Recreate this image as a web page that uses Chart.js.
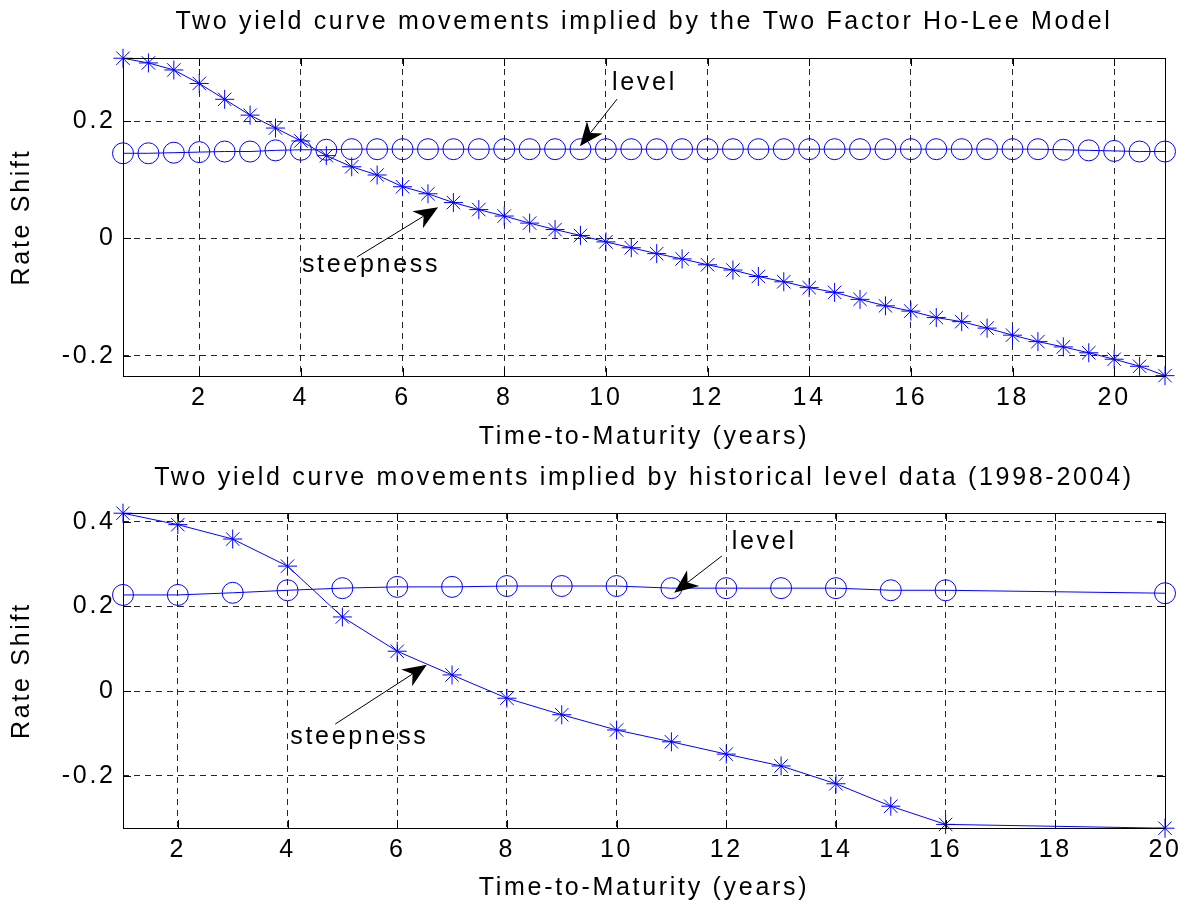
<!DOCTYPE html>
<html>
<head>
<meta charset="utf-8">
<script src="https://cdn.jsdelivr.net/npm/chart.js@4.4.1/dist/chart.umd.min.js"></script>
<style>
  body { margin: 0; background: #fff; }
  .panel { position: absolute; left: 0; width: 1193px; }
</style>
</head>
<body>
<div class="panel" style="top:0;height:455px"><canvas id="hoLee"></canvas></div>
<div class="panel" style="top:455px;height:452px"><canvas id="historical"></canvas></div>
<script>
// ---- data ----
const topMaturities = [0.5, 1, 1.5, 2, 2.5, 3, 3.5, 4, 4.5, 5, 5.5, 6, 6.5, 7, 7.5, 8, 8.5, 9, 9.5, 10,
  10.5, 11, 11.5, 12, 12.5, 13, 13.5, 14, 14.5, 15, 15.5, 16, 16.5, 17, 17.5, 18, 18.5, 19, 19.5, 20, 20.5, 21];
const topSteepness = [0.307, 0.299, 0.287, 0.264, 0.237, 0.210, 0.188, 0.166, 0.141, 0.122, 0.108, 0.088,
  0.076, 0.061, 0.049, 0.038, 0.026, 0.015, 0.005, -0.006, -0.016, -0.026, -0.035, -0.045, -0.054, -0.065,
  -0.074, -0.084, -0.092, -0.104, -0.115, -0.124, -0.135, -0.142, -0.153, -0.165, -0.176, -0.185, -0.195,
  -0.206, -0.218, -0.234];
const topLevel = [0.145, 0.145, 0.146, 0.147, 0.148, 0.148, 0.150, 0.151, 0.151, 0.152, 0.152, 0.152,
  0.152, 0.152, 0.152, 0.152, 0.152, 0.152, 0.152, 0.152, 0.152, 0.152, 0.152, 0.152, 0.152, 0.152,
  0.152, 0.152, 0.152, 0.152, 0.152, 0.152, 0.152, 0.152, 0.152, 0.152, 0.152, 0.151, 0.150, 0.149,
  0.148, 0.148];

const bottomMaturities = [1, 2, 3, 4, 5, 6, 7, 8, 9, 10, 11, 12, 13, 14, 15, 16, 20];
const bottomSteepness = [0.420, 0.393, 0.359, 0.295, 0.175, 0.094, 0.038, -0.017, -0.056, -0.092,
  -0.120, -0.149, -0.177, -0.219, -0.272, -0.315, -0.324];
const bottomLevel = [0.227, 0.227, 0.232, 0.238, 0.243, 0.246, 0.246, 0.248, 0.248, 0.248, 0.243,
  0.243, 0.243, 0.243, 0.238, 0.238, 0.231];

const xTickValues = [2, 4, 6, 8, 10, 12, 14, 16, 18, 20];
const topYTicks = [-0.2, 0, 0.2];
const bottomYTicks = [-0.2, 0, 0.2, 0.4];

const topTitle = "Two yield curve movements implied by the Two Factor Ho-Lee Model";
const bottomTitle = "Two yield curve movements implied by historical level data (1998-2004)";
const xLabel = "Time-to-Maturity (years)";
const yLabel = "Rate Shift";

// annotation anchors, in data units
const topNotes = [
  { text: "level", at: [10.12, 0.253], from: [10.22, 0.2374], to: [9.49, 0.157] },
  { text: "steepness", at: [4.02, -0.057], from: [5.10, -0.032], to: [6.70, 0.053] }
];
const bottomNotes = [
  { text: "level", at: [12.10, 0.335], from: [11.92, 0.319], to: [11.05, 0.232] },
  { text: "steepness", at: [4.05, -0.125], from: [4.87, -0.078], to: [6.54, 0.062] }
];

// ---- styling ----
const FONT = "'Liberation Sans', Arial, Helvetica, sans-serif";
const SPACING = "2.7px";
const BLUE = "#0000ff";
const textFont = { family: FONT, size: 25, weight: "normal", lineHeight: 1.2 };

// MATLAB-ish wide letter spacing for every canvas text
const spacing = {
  id: "spacing",
  beforeLayout(chart) { chart.ctx.letterSpacing = SPACING; },
  beforeDraw(chart) { chart.ctx.letterSpacing = SPACING; }
};

function drawArrow(ctx, x1, y1, x2, y2) {
  const a = Math.atan2(y2 - y1, x2 - x1);
  const L = 24, W = 10, N = 7;
  const cx = Math.cos(a), sy = Math.sin(a);
  const nx = -sy, ny = cx;
  const bx = x2 - cx * L, by = y2 - sy * L;
  const mx = x2 - cx * (L - N), my = y2 - sy * (L - N);
  ctx.beginPath();
  ctx.moveTo(x1, y1);
  ctx.lineTo(mx, my);
  ctx.stroke();
  ctx.beginPath();
  ctx.moveTo(x2, y2);
  ctx.lineTo(bx + nx * W, by + ny * W);
  ctx.lineTo(mx, my);
  ctx.lineTo(bx - nx * W, by - ny * W);
  ctx.closePath();
  ctx.fill();
}

// box, inward tick marks and text arrows
const frame = {
  id: "frame",
  afterDraw(chart, args, opts) {
    const { ctx, chartArea: a, scales: { x, y } } = chart;
    ctx.save();
    ctx.strokeStyle = "#000";
    ctx.fillStyle = "#000";
    ctx.lineWidth = 1;
    ctx.setLineDash([]);
    ctx.strokeRect(a.left + 0.5, a.top + 0.5, a.right - a.left, a.bottom - a.top);
    const t = 8;
    ctx.beginPath();
    x.ticks.forEach(tk => {
      const px = Math.round(x.getPixelForValue(tk.value)) + 0.5;
      ctx.moveTo(px, a.bottom); ctx.lineTo(px, a.bottom - t);
      ctx.moveTo(px, a.top); ctx.lineTo(px, a.top + t);
    });
    y.ticks.forEach(tk => {
      const py = Math.round(y.getPixelForValue(tk.value)) + 0.5;
      ctx.moveTo(a.left, py); ctx.lineTo(a.left + t, py);
      ctx.moveTo(a.right, py); ctx.lineTo(a.right - t, py);
    });
    ctx.stroke();

    ctx.letterSpacing = SPACING;
    ctx.font = "25px " + FONT;
    ctx.textAlign = "left";
    ctx.textBaseline = "alphabetic";
    (opts.items || []).forEach(n => {
      ctx.fillText(n.text, x.getPixelForValue(n.at[0]), y.getPixelForValue(n.at[1]));
      drawArrow(ctx,
        x.getPixelForValue(n.from[0]), y.getPixelForValue(n.from[1]),
        x.getPixelForValue(n.to[0]), y.getPixelForValue(n.to[1]));
    });
    ctx.restore();
  }
};

function makeChart(id, cfg) {
  const toPoints = (xs, ys) => xs.map((v, i) => ({ x: v, y: ys[i] }));
  return new Chart(document.getElementById(id), {
    type: "line",
    data: {
      datasets: [
        {
          label: "steepness",
          data: toPoints(cfg.xs, cfg.steep),
          borderColor: BLUE,
          borderWidth: 1,
          pointStyle: "star",
          pointRadius: 9.5,
          pointBorderWidth: 1,
          pointBorderColor: BLUE,
          pointBackgroundColor: "rgba(0,0,0,0)",
          tension: 0,
          clip: false
        },
        {
          label: "level",
          data: toPoints(cfg.xs, cfg.level),
          borderColor: BLUE,
          borderWidth: 1,
          pointStyle: "circle",
          pointRadius: 10.5,
          pointBorderWidth: 1,
          pointBorderColor: BLUE,
          pointBackgroundColor: "rgba(0,0,0,0)",
          tension: 0,
          clip: false
        }
      ]
    },
    options: {
      responsive: true,
      maintainAspectRatio: false,
      animation: false,
      events: [],
      layout: { padding: { left: 0, right: 28, top: 0, bottom: 0 } },
      plugins: {
        legend: { display: false },
        tooltip: { enabled: false },
        title: {
          display: true,
          text: cfg.title,
          fullSize: false,
          color: "#000",
          font: textFont,
          padding: { top: cfg.titleTop, bottom: 58 - 30 - cfg.titleTop }
        },
        frame: { items: cfg.notes }
      },
      scales: {
        x: {
          type: "linear",
          min: cfg.xMin,
          max: cfg.xMax,
          afterBuildTicks: s => { s.ticks = xTickValues.map(v => ({ value: v })); },
          afterFit: s => { s.height = 79; },
          grid: { color: "rgba(0,0,0,0.85)", lineWidth: 1, drawTicks: false },
          border: { display: false, dash: [6, 5] },
          ticks: {
            color: "#000", font: textFont, padding: 7.5,
            maxRotation: 0, autoSkip: false,
            callback: v => String(v)
          },
          title: {
            display: true, text: xLabel, color: "#000", font: textFont,
            padding: { top: 0, bottom: cfg.xTitlePad }
          }
        },
        y: {
          type: "linear",
          min: cfg.yMin,
          max: cfg.yMax,
          afterBuildTicks: s => { s.ticks = cfg.yTicks.map(v => ({ value: v })); },
          afterFit: s => { s.width = 123; },
          grid: { color: "rgba(0,0,0,0.85)", lineWidth: 1, drawTicks: false },
          border: { display: false, dash: [6, 5] },
          ticks: {
            color: "#000", font: textFont, padding: 7.3,
            callback: v => String(v)
          },
          title: {
            display: true, text: yLabel, color: "#000", font: textFont,
            padding: { top: 7.5, bottom: 0 }
          }
        }
      }
    },
    plugins: [spacing, frame]
  });
}

makeChart("hoLee", {
  xs: topMaturities, steep: topSteepness, level: topLevel,
  title: topTitle, titleTop: 7, xTitlePad: 3,
  xMin: 0.5, xMax: 21, yMin: -0.2346, yMax: 0.3074, yTicks: topYTicks,
  notes: topNotes
});

makeChart("historical", {
  xs: bottomMaturities, steep: bottomSteepness, level: bottomLevel,
  title: bottomTitle, titleTop: 8, xTitlePad: 4,
  xMin: 1, xMax: 20, yMin: -0.3235, yMax: 0.4205, yTicks: bottomYTicks,
  notes: bottomNotes
});
</script>
</body>
</html>
